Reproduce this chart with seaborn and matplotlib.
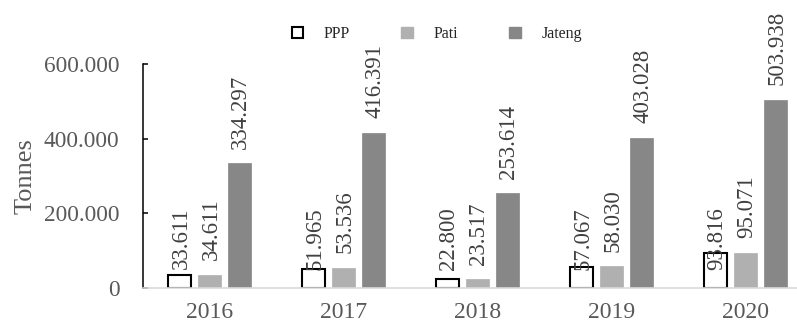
# grouped bar chart: production per year for PPP, Pati and Jateng

import matplotlib
matplotlib.use("Agg")
import matplotlib.pyplot as plt
from matplotlib.patches import Patch
import pandas as pd
import seaborn as sns

# data (tonnes)
years = ["2016", "2017", "2018", "2019", "2020"]
ppp = [33611, 51965, 22800, 57067, 93816]
pati = [34611, 53536, 23517, 58030, 95071]
jateng = [334297, 416391, 253614, 403028, 503938]
series_names = ["PPP", "Pati", "Jateng"]
y_ticks = [0, 200000, 400000, 600000]

# ppp labels sit at a fixed height in the original
ppp_label_y = 133000


def fmt(v):
    return f"{v:,.0f}".replace(",", ".")


def main():
    sns.set_theme(style="white")
    plt.rcParams["font.family"] = ["Liberation Serif", "DejaVu Serif"]

    df = pd.DataFrame({
        "year": years * 3,
        "series": [s for s in series_names for _ in years],
        "value": ppp + pati + jateng,
    })

    fig = plt.figure(figsize=(7.97, 3.22), dpi=100)
    ax = fig.add_axes([142.5 / 797, 34 / 322, 670 / 797, 224 / 322])

    palette = {"PPP": "white", "Pati": "#b0b0b0", "Jateng": "#878787"}
    sns.barplot(data=df, x="year", y="value", hue="series", hue_order=series_names,
                palette=palette, width=0.67, gap=0.23, ax=ax, legend=False,
                saturation=1)

    # style the bars
    for name, cont in zip(series_names, ax.containers):
        for bar in cont:
            if name == "PPP":
                bar.set_facecolor("none")
                bar.set_edgecolor("black")
                bar.set_linewidth(1.5)
            else:
                bar.set_edgecolor(palette[name])
                bar.set_linewidth(0.5)

    # value labels
    lab_color = "#404040"
    for name, cont in zip(series_names, ax.containers):
        vals = df.loc[df["series"] == name, "value"].tolist()
        for bar, v in zip(cont, vals):
            xc = bar.get_x() + bar.get_width() / 2
            if name == "PPP":
                ax.annotate(fmt(v), (xc, ppp_label_y), xytext=(1, 0),
                            textcoords="offset points", rotation=90,
                            ha="center", va="center", fontsize=16.5,
                            color=lab_color, annotation_clip=False)
            else:
                ax.annotate(fmt(v), (xc, v), xytext=(1, 10.5),
                            textcoords="offset points", rotation=90,
                            ha="center", va="bottom", fontsize=16.5,
                            color=lab_color, annotation_clip=False)

    ax.set_xlim(-0.5, len(years) - 0.5)
    ax.set_ylim(0, 600000)
    ax.set_yticks(y_ticks)
    ax.set_yticklabels([fmt(t) for t in y_ticks])
    ax.set_xlabel("")
    ax.set_ylabel("Tonnes", fontsize=19, color="#595959", labelpad=5)

    ax.tick_params(axis="y", direction="in", length=3.6, width=1.1,
                   color="black", pad=16.5, labelsize=16.8, labelcolor="#595959",
                   left=True)
    ax.tick_params(axis="x", length=0, pad=10, labelsize=17, labelcolor="#595959")

    for side in ["top", "right"]:
        ax.spines[side].set_visible(False)
    ax.spines["left"].set_color("black")
    ax.spines["left"].set_linewidth(1.1)
    ax.spines["bottom"].set_color("#d9d9d9")
    ax.spines["bottom"].set_linewidth(1.2)
    ax.grid(False)

    # legend at the top
    handles = [
        Patch(facecolor="white", edgecolor="black", linewidth=1.5),
        Patch(facecolor=palette["Pati"], edgecolor=palette["Pati"]),
        Patch(facecolor=palette["Jateng"], edgecolor=palette["Jateng"]),
    ]
    fig.legend(handles, series_names, loc="center", bbox_to_anchor=(437 / 797, 1 - 34 / 322),
               ncol=3, frameon=False, fontsize=11.5, handlelength=0.72, handleheight=0.72,
               handletextpad=1.3, columnspacing=3.2, borderpad=0)

    fig.savefig("out.png", dpi=100)


if __name__ == "__main__":
    main()
